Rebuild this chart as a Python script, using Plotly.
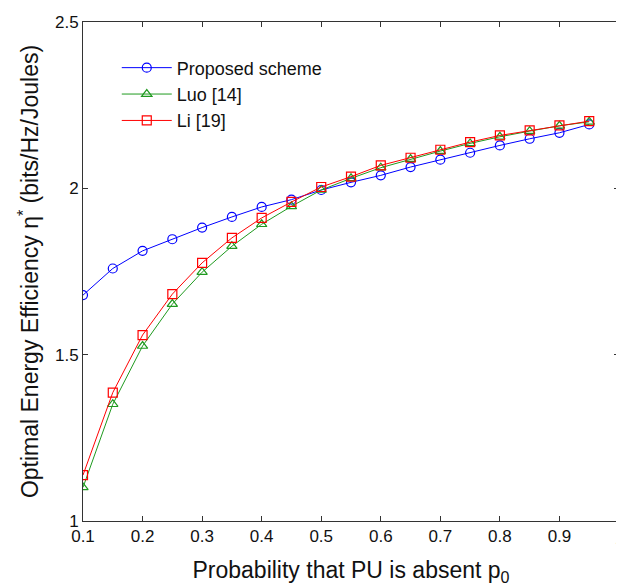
import plotly.graph_objects as go

# Data
p0 = [0.1, 0.15, 0.2, 0.25, 0.3, 0.35, 0.4, 0.45, 0.5, 0.55, 0.6, 0.65, 0.7, 0.75, 0.8, 0.85, 0.9, 0.95]
proposed = [1.679, 1.759, 1.812, 1.847, 1.882, 1.914, 1.944, 1.966, 1.995, 2.018, 2.039, 2.064, 2.086, 2.107, 2.129, 2.149, 2.167, 2.192]
luo = [1.101, 1.351, 1.526, 1.652, 1.748, 1.826, 1.892, 1.946, 1.995, 2.030, 2.062, 2.088, 2.112, 2.135, 2.155, 2.172, 2.188, 2.200]
li = [1.138, 1.386, 1.559, 1.682, 1.776, 1.851, 1.911, 1.959, 2.004, 2.035, 2.069, 2.092, 2.116, 2.139, 2.159, 2.174, 2.189, 2.202]

series_names = ["Proposed scheme", "Luo [14]", "Li [19]"]
series_colors = ["#0000ff", "#1f9a1f", "#ff0000"]
series_symbols = ["circle-open", "triangle-up-open", "square-open"]

x_tickvals = [0.1, 0.2, 0.3, 0.4, 0.5, 0.6, 0.7, 0.8, 0.9, 1.0]
x_ticktext = ["0.1", "0.2", "0.3", "0.4", "0.5", "0.6", "0.7", "0.8", "0.9", "1"]
y_tickvals = [1, 1.5, 2, 2.5]
y_ticktext = ["1", "1.5", "2", "2.5"]

FONT = "Liberation Sans, Arial, sans-serif"

fig = go.Figure()
for name, ys, col, sym in zip(series_names, [proposed, luo, li], series_colors, series_symbols):
    fig.add_trace(go.Scatter(
        x=p0, y=ys, name=name, mode="lines+markers",
        line=dict(color=col, width=1),
        marker=dict(symbol=sym, size=9, color=col, line=dict(width=1.2, color=col)),
    ))

axis_common = dict(
    showgrid=False, zeroline=False, showline=True, linecolor="#333333", linewidth=1,
    ticks="inside", ticklen=5, tickcolor="#333333", mirror="ticks", automargin=False,
    tickfont=dict(family=FONT, size=17, color="#111111"),
)

# The page body has an 8px margin; margins compensate so the plot sits where the reference has it.
fig.update_layout(
    width=624, height=588,
    margin=dict(l=75, r=13, t=14, b=75),
    paper_bgcolor="white", plot_bgcolor="white",
    font=dict(family=FONT, color="#111111"),
    showlegend=True,
    legend=dict(x=0.063, y=0.945, xanchor="left", yanchor="top",
                bgcolor="rgba(0,0,0,0)", borderwidth=0, itemwidth=50,
                font=dict(family=FONT, size=18, color="#111111")),
    xaxis=dict(range=[0.1, 1.0], tickvals=x_tickvals[:-1], ticktext=x_ticktext[:-1],
               title=dict(text="Probability that PU is absent p<sub>0</sub>",
                          font=dict(family=FONT, size=23), standoff=16),
               **axis_common),
    yaxis=dict(range=[1, 2.5], tickvals=y_tickvals, ticktext=y_ticktext,
               title=dict(text="Optimal Energy Efficiency η<sup>*</sup> (bits/Hz/Joules)",
                          font=dict(family=FONT, size=23), standoff=9),
               **axis_common),
)

# Last x tick label (at the right edge, where Plotly drops it) drawn at the same tick position
fig.add_annotation(x=x_tickvals[-1], xref="x", y=0, yref="paper", yanchor="top",
                   yshift=-6, text=x_ticktext[-1], showarrow=False,
                   font=dict(family=FONT, size=17, color="#111111"))

fig.write_html("out.html")
